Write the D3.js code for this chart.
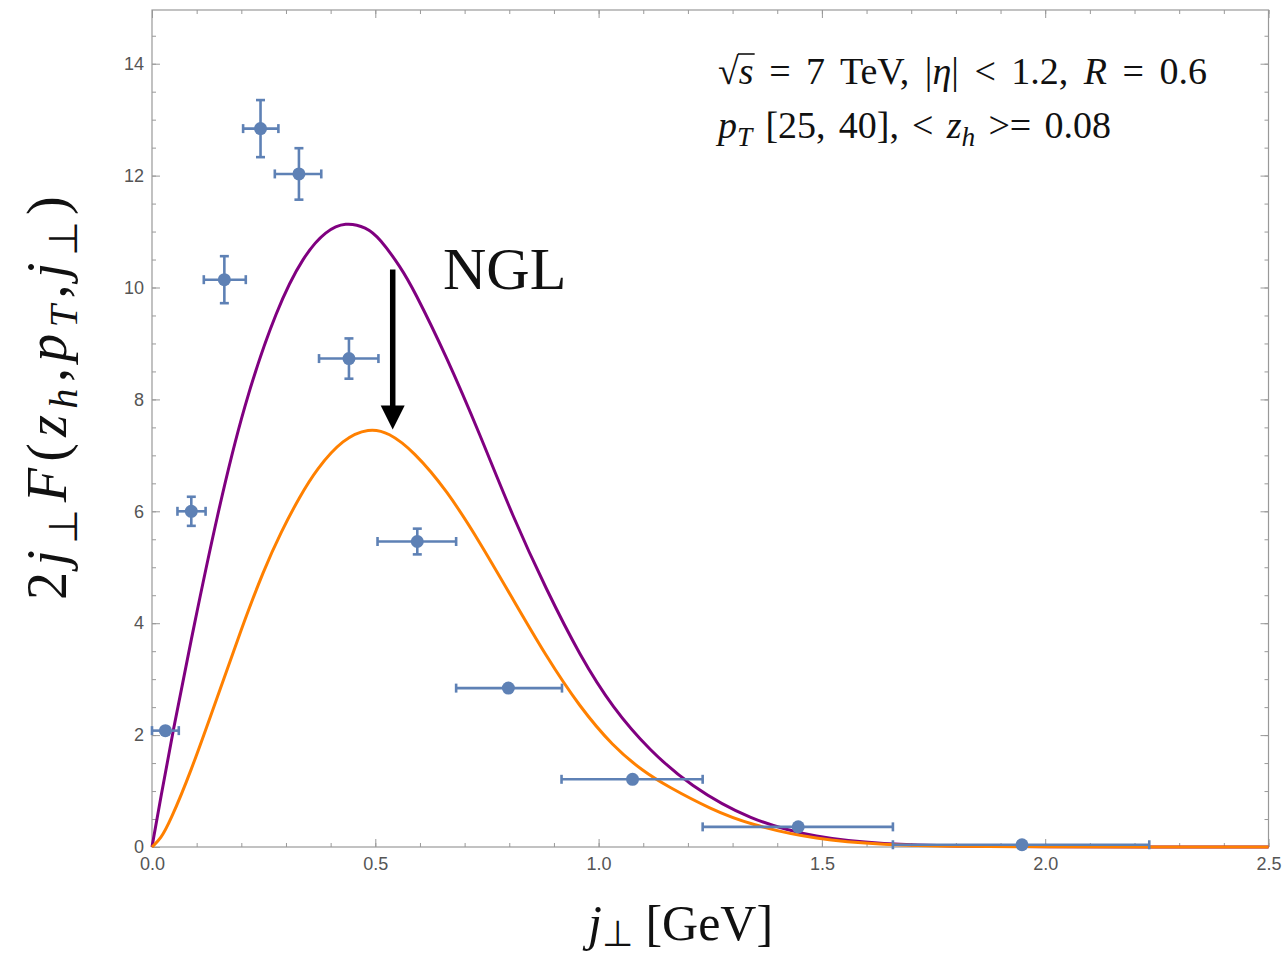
<!DOCTYPE html>
<html>
<head>
<meta charset="utf-8">
<script src="https://cdn.jsdelivr.net/npm/d3@7"></script>
<style>
body { margin: 0; background: #fff; }
.tick text { font-family: "Liberation Sans", Arial, sans-serif; font-size: 18px; fill: #555; }
.tick line { stroke: #999; }
.serif { font-family: "Liberation Serif", "Times New Roman", serif; fill: #111; }
</style>
</head>
<body>
<svg id="chart" width="1283" height="965"></svg>
<script>
// data points (j_perp bins)
var pointJ   = [0.030, 0.088, 0.162, 0.243, 0.329, 0.441, 0.594, 0.798, 1.076, 1.447, 1.948];
var pointF   = [2.08, 6.00, 10.14, 12.84, 12.03, 8.73, 5.46, 2.84, 1.21, 0.36, 0.04];
var pointJlo = [0.000, 0.057, 0.116, 0.204, 0.275, 0.374, 0.505, 0.681, 0.917, 1.233, 1.659];
var pointJhi = [0.060, 0.120, 0.210, 0.283, 0.379, 0.507, 0.681, 0.918, 1.233, 1.659, 2.233];
var pointErr = [0, 0.26, 0.42, 0.51, 0.46, 0.36, 0.23, 0, 0, 0, 0];

// purple curve (without NGL)
var purpleJ = [0, 0.02, 0.044, 0.095, 0.145, 0.205, 0.28, 0.34, 0.39, 0.433, 0.48, 0.51, 0.557, 0.585,
               0.66, 0.734, 0.808, 0.883, 0.958, 1.032, 1.115, 1.204, 1.338, 1.488, 1.637, 1.8, 2.0, 2.25, 2.5];
var purpleF = [0, 0.9, 1.95, 4.0, 5.9, 7.9, 9.65, 10.58, 11.02, 11.17, 11.08, 10.88, 10.36, 9.98,
               8.76, 7.38, 5.9, 4.6, 3.42, 2.48, 1.72, 1.1, 0.48, 0.16, 0.05, 0.012, 0.002, 0, 0];

// orange curve (with NGL)
var orangeJ = [0, 0.02, 0.04, 0.085, 0.145, 0.2, 0.25, 0.29, 0.33, 0.368, 0.428, 0.486, 0.53, 0.585,
               0.66, 0.734, 0.808, 0.883, 0.958, 1.032, 1.1, 1.155, 1.25, 1.338, 1.488, 1.637, 1.8, 2.0, 2.25, 2.5];
var orangeF = [0, 0.15, 0.45, 1.3, 2.65, 3.9, 4.95, 5.65, 6.25, 6.75, 7.3, 7.49, 7.41, 7.08,
               6.38, 5.45, 4.43, 3.4, 2.5, 1.8, 1.35, 1.08, 0.68, 0.4, 0.13, 0.04, 0.01, 0.002, 0, 0];

var xTicks = [0, 0.5, 1.0, 1.5, 2.0, 2.5];
var xTickLabels = ["0.0", "0.5", "1.0", "1.5", "2.0", "2.5"];
var yTicks = [0, 2, 4, 6, 8, 10, 12, 14];

var svg = d3.select("#chart");
var x = d3.scaleLinear().domain([0, 2.5]).range([152, 1268.5]);
var y = d3.scaleLinear().domain([0, 14.96]).range([847, 10]);

var xMinor = d3.range(0, 2.501, 0.1);
var yMinor = d3.range(0, 14.96, 0.5);

function axis(a, tr) {
  var g = svg.append("g").attr("transform", tr).call(a);
  g.select(".domain").remove();
  return g;
}
// minor ticks
axis(d3.axisBottom(x).tickValues(xMinor).tickSize(-4).tickFormat(""), "translate(0,847)");
axis(d3.axisTop(x).tickValues(xMinor).tickSize(-4).tickFormat(""), "translate(0,10)");
axis(d3.axisLeft(y).tickValues(yMinor).tickSize(-4).tickFormat(""), "translate(152,0)");
axis(d3.axisRight(y).tickValues(yMinor).tickSize(-4).tickFormat(""), "translate(1268.5,0)");
// major ticks
axis(d3.axisBottom(x).tickValues(xTicks).tickSize(-8).tickPadding(10)
  .tickFormat(function(d, i) { return xTickLabels[i]; }), "translate(0,847)");
axis(d3.axisTop(x).tickValues(xTicks).tickSize(-8).tickFormat(""), "translate(0,10)");
axis(d3.axisLeft(y).tickValues(yTicks).tickSize(-8).tickPadding(8), "translate(152,0)");
axis(d3.axisRight(y).tickValues(yTicks).tickSize(-8).tickFormat(""), "translate(1268.5,0)");

svg.append("rect")
  .attr("x", x(0)).attr("y", y(14.96))
  .attr("width", x(2.5) - x(0)).attr("height", y(0) - y(14.96))
  .attr("fill", "none").attr("stroke", "#999").attr("stroke-width", 1.2);

// curves
var line = d3.line().curve(d3.curveBasis);
svg.append("path")
  .attr("d", line(purpleJ.map(function(j, i) { return [x(j), y(purpleF[i])]; })))
  .attr("fill", "none").attr("stroke", "#800080").attr("stroke-width", 3);
svg.append("path")
  .attr("d", line(orangeJ.map(function(j, i) { return [x(j), y(orangeF[i])]; })))
  .attr("fill", "none").attr("stroke", "#ff8000").attr("stroke-width", 3);

// data with error bars
var blue = "#5e81b5";
var pts = svg.append("g").attr("stroke", blue).attr("stroke-width", 2.6).attr("fill", blue);
pointJ.forEach(function(j, i) {
  var cx = x(j), cy = y(pointF[i]);
  var x0 = x(pointJlo[i]), x1 = x(pointJhi[i]);
  pts.append("line").attr("x1", x0).attr("x2", x1).attr("y1", cy).attr("y2", cy);
  pts.append("line").attr("x1", x0).attr("x2", x0).attr("y1", cy - 4.5).attr("y2", cy + 4.5);
  pts.append("line").attr("x1", x1).attr("x2", x1).attr("y1", cy - 4.5).attr("y2", cy + 4.5);
  if (pointErr[i] > 0) {
    var y0 = y(pointF[i] - pointErr[i]), y1 = y(pointF[i] + pointErr[i]);
    pts.append("line").attr("x1", cx).attr("x2", cx).attr("y1", y0).attr("y2", y1);
    pts.append("line").attr("x1", cx - 4.5).attr("x2", cx + 4.5).attr("y1", y0).attr("y2", y0);
    pts.append("line").attr("x1", cx - 4.5).attr("x2", cx + 4.5).attr("y1", y1).attr("y2", y1);
  }
  pts.append("circle").attr("cx", cx).attr("cy", cy).attr("r", 6.5).attr("stroke", "none");
});

// NGL arrow
var arrowJ = 0.539, arrowTop = 10.32, arrowTip = 7.46;
var ax = x(arrowJ), ayTip = y(arrowTip);
svg.append("line").attr("x1", ax).attr("x2", ax).attr("y1", y(arrowTop)).attr("y2", ayTip - 20)
  .attr("stroke", "#000").attr("stroke-width", 5.5);
svg.append("path")
  .attr("d", "M" + (ax - 12) + "," + (ayTip - 24) + "L" + (ax + 12) + "," + (ayTip - 24) + "L" + ax + "," + ayTip + "Z")
  .attr("fill", "#000");
svg.append("text").attr("class", "serif").attr("x", 443).attr("y", 289)
  .attr("font-size", 60).text("NGL");

// math-ish text helper
function mathText(g, px, py, size, parts, subDrop) {
  var t = g.append("text").attr("class", "serif").attr("x", px).attr("y", py).attr("font-size", size);
  var shift = 0, drop = subDrop === undefined ? 0.28 : subDrop;
  parts.forEach(function(p) {
    var s = t.append("tspan").text(p.t);
    if (p.it) s.attr("font-style", "italic");
    var want = p.sub ? size * drop : 0;
    if (p.sub) s.attr("font-size", size * 0.72);
    if (want !== shift) { s.attr("dy", want - shift); shift = want; }
  });
  return t;
}
// stretch spaces so the text spans the width seen in the reference
function fitWords(t, width) {
  var n = t.text().split(" ").length - 1;
  var len = t.node().getComputedTextLength();
  if (n > 0) t.attr("word-spacing", (width - len) / n);
}
function fitLetters(t, width) {
  var n = t.text().length;
  var len = t.node().getComputedTextLength();
  t.attr("letter-spacing", (width - len) / n);
}

var t1 = mathText(svg, 718, 84, 38, [
  {t: "√"}, {t: "s", it: 1}, {t: " = 7 TeV, |"}, {t: "η", it: 1},
  {t: "| < 1.2, "}, {t: "R", it: 1}, {t: " = 0.6"}]);
fitWords(t1, 489);
var n1 = t1.node();
var sx0 = n1.getEndPositionOfChar(0).x, sx1 = n1.getEndPositionOfChar(1).x;
svg.append("line").attr("x1", sx0 - 1).attr("x2", sx1 + 1).attr("y1", 84 - 30).attr("y2", 84 - 30)
  .attr("stroke", "#111").attr("stroke-width", 1.6);

var t2 = mathText(svg, 718, 138, 38, [
  {t: "p", it: 1}, {t: "T", it: 1, sub: 1}, {t: " [25, 40], < "}, {t: "z", it: 1},
  {t: "h", it: 1, sub: 1}, {t: " >= 0.08"}], 0.22);
fitWords(t2, 393);

// axis labels
mathText(svg, 588, 940, 50, [
  {t: "j", it: 1}, {t: "⊥", sub: 1}, {t: " [GeV]"}], 0.12);

var yl = svg.append("g").attr("transform", "translate(66,600) rotate(-90)");
var ylt = mathText(yl, 0, 0, 56, [
  {t: "2"}, {t: "j", it: 1}, {t: "⊥", sub: 1}, {t: "F", it: 1}, {t: "("}, {t: "z", it: 1},
  {t: "h", it: 1, sub: 1}, {t: ","}, {t: "p", it: 1}, {t: "T", it: 1, sub: 1}, {t: ","},
  {t: "j", it: 1}, {t: "⊥", sub: 1}, {t: ")"}], 0.2);
fitLetters(ylt, 410);
</script>
</body>
</html>
